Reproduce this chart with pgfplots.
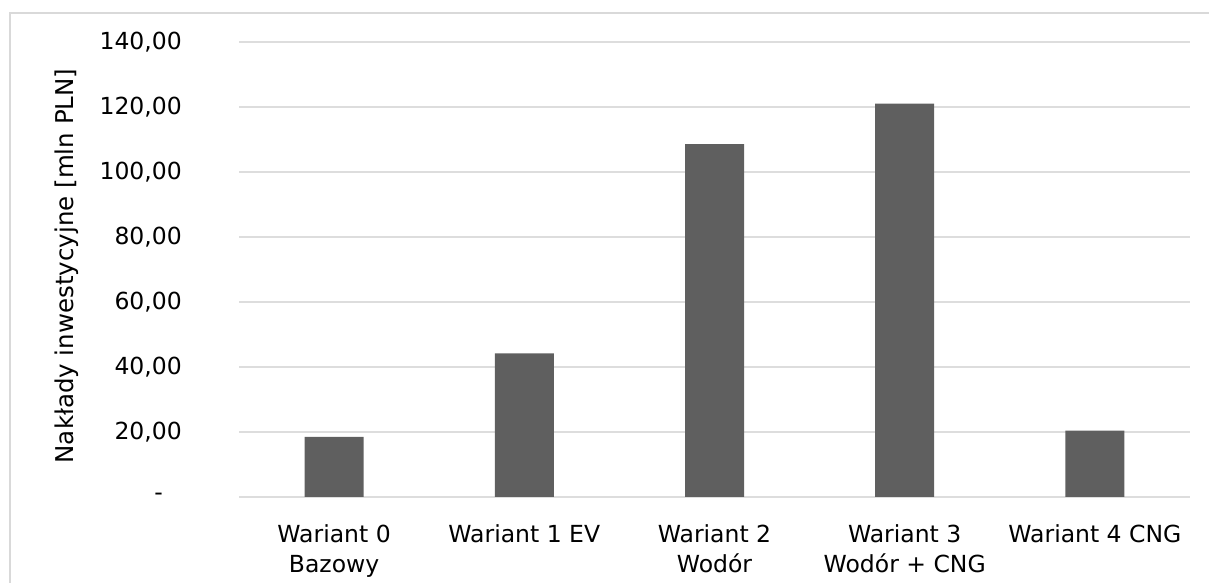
\documentclass[border=0pt]{standalone}
\usepackage{pgfplots}
\pgfplotsset{compat=1.18}
\usepackage{fontspec}
\setmainfont{DejaVu Sans}
\definecolor{barcol}{HTML}{5F5F5F}
\definecolor{gridcol}{HTML}{DDDDDD}
\definecolor{framecol}{HTML}{D9D9D9}
\begin{document}
\begin{tikzpicture}[x=1pt,y=1pt]
\path[use as bounding box] (0,0) rectangle (1209,583);
\draw[framecol, line width=1.5pt] (10,0) -- (10,570) -- (1209,570);
\begin{axis}[
  at={(239pt,86pt)}, anchor=south west,
  scale only axis, width=951pt, height=455pt,
  xmin=-0.5, xmax=4.5, ymin=0, ymax=140,
  ytick={0,20,40,60,80,100,120,140},
  yticklabels={{-\hspace*{19pt}},{20,00},{40,00},{60,00},{80,00},{100,00},{120,00},{140,00}},
  xtick={0,1,2,3,4},
  xticklabels={{Wariant 0\\Bazowy},{Wariant 1 EV},{Wariant 2\\Wodór},{Wariant 3\\Wodór + CNG},{Wariant 4 CNG}},
  axis line style={draw=none},
  major tick style={draw=none},
  ymajorgrids, grid style={gridcol, line width=1.5pt},
  yticklabel style={anchor=east, inner sep=0pt, xshift=-57pt, font=\fontsize{23.5}{30}\selectfont},
  xticklabel style={anchor=north, inner sep=0pt, yshift=-23pt, align=center, font=\fontsize{23.5}{30}\selectfont},
  ybar, bar width=59pt,
  clip=false,
]
\addplot[fill=barcol, draw=none] coordinates {(0,18.5) (1,44.2) (2,108.6) (3,121.0) (4,20.4)};
\end{axis}
\node[rotate=90, font=\fontsize{24.5}{30}\selectfont] at (67,317) {Nakłady inwestycyjne [mln PLN]};
\end{tikzpicture}
\end{document}
